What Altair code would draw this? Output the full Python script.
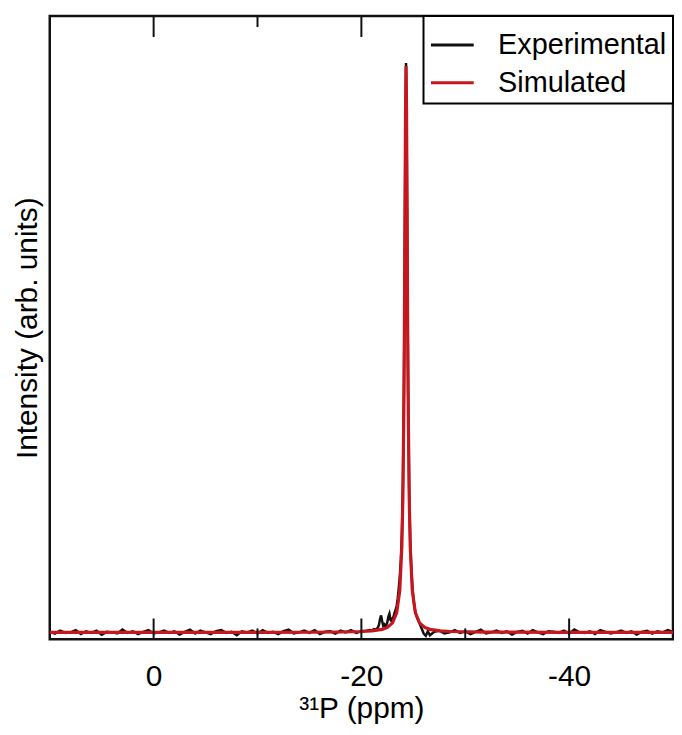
import altair as alt
import pandas as pd

FONT = "Liberation Sans"

# ---------------- data ----------------
series_names = ["Experimental", "Simulated"]
series_colors = ["#111111", "#c8161e"]

major_ticks = [0, -20, -40]
minor_ticks = [-10, -30]

# Experimental spectrum (ppm, intensity)
exp_ppm = [
    10.0, 9.5, 9.0, 8.5, 8.0, 7.5, 7.0, 6.5, 6.0, 5.5, 5.0, 4.5, 4.0, 3.5, 3.0, 2.5,
    2.0, 1.5, 1.0, 0.5, 0.0, -0.5, -1.0, -1.5, -2.0, -2.5, -3.0, -3.5, -4.0, -4.5,
    -5.0, -5.5, -6.0, -6.5, -7.0, -7.5, -8.0, -8.5, -9.0, -9.5, -10.0, -10.5, -11.0,
    -11.5, -12.0, -12.5, -13.0, -13.5, -14.0, -14.5, -15.0, -15.5, -16.0, -16.5,
    -17.0, -17.5, -18.0, -18.5, -19.0, -19.5, -20.0, -20.5,
    -20.8, -21.0, -21.2, -21.4, -21.6, -21.7, -21.8, -21.9, -22.0, -22.1, -22.2,
    -22.3, -22.4, -22.5, -22.6, -22.7, -22.8, -22.9, -23.0, -23.1, -23.2, -23.3,
    -23.4, -23.5, -23.6, -23.7, -23.8, -23.9, -24.0, -24.1, -24.15, -24.2, -24.25,
    -24.3, -24.35, -24.4, -24.45, -24.5, -24.6, -24.7, -24.8, -24.9, -25.0, -25.1,
    -25.2, -25.4, -25.6, -25.8, -26.0, -26.2, -26.4,
    -26.6, -27.0, -27.5, -28.0, -28.5, -29.0, -29.5, -30.0, -30.5, -31.0, -31.5,
    -32.0, -32.5, -33.0, -33.5, -34.0, -34.5, -35.0, -35.5, -36.0, -36.5, -37.0,
    -37.5, -38.0, -38.5, -39.0, -39.5, -40.0, -40.5, -41.0, -41.5, -42.0, -42.5,
    -43.0, -43.5, -44.0, -44.5, -45.0, -45.5, -46.0, -46.5, -47.0, -47.5, -48.0,
    -48.5, -49.0, -49.5, -50.0,
]
exp_intensity = [
    0.001, -0.002, 0.003, -0.001, 0.000, 0.004, -0.003, 0.002, -0.001, 0.003,
    -0.004, 0.001, 0.000, -0.002, 0.005, -0.001, 0.002, -0.003, 0.001, 0.004,
    -0.002, 0.000, 0.003, -0.001, 0.002, -0.004, 0.001, 0.005, -0.002, 0.003,
    0.000, -0.003, 0.002, 0.004, -0.001, 0.001, -0.005, 0.002, 0.000, 0.003,
    -0.002, 0.004, -0.001, 0.001, -0.003, 0.002, 0.005, -0.002, 0.000, 0.003,
    -0.001, 0.004, -0.003, 0.001, 0.002, -0.002, 0.003, 0.000, 0.004, -0.001,
    0.002, 0.003,
    0.004, 0.003, 0.006, 0.005, 0.009, 0.014, 0.024, 0.030, 0.020, 0.012, 0.014,
    0.010, 0.013, 0.018, 0.028, 0.033, 0.022, 0.020, 0.025, 0.028, 0.035, 0.040,
    0.047, 0.060, 0.078, 0.100, 0.128, 0.175, 0.265, 0.432, 0.572, 0.752, 0.928,
    1.005, 0.922, 0.748, 0.568, 0.428, 0.255, 0.165, 0.115, 0.084, 0.062, 0.046,
    0.036, 0.024, 0.016, 0.007, -0.002, -0.006, 0.002,
    -0.005, 0.001, 0.003, -0.002, 0.000, 0.004, -0.001, 0.002, -0.003, 0.001,
    0.005, -0.002, 0.000, 0.003, -0.001, 0.002, -0.004, 0.001, 0.003, -0.002,
    0.004, 0.000, -0.003, 0.002, 0.001, -0.001, 0.003, -0.002, 0.005, 0.000,
    -0.001, 0.002, -0.003, 0.004, 0.001, -0.002, 0.000, 0.003, -0.001, 0.002,
    -0.004, 0.001, 0.003, -0.002, 0.002, 0.000, 0.004, 0.001,
]

# Simulated line (ppm, intensity)
sim_ppm = [
    10.0, 0.0, -10.0, -15.0, -18.0, -20.0, -21.0, -22.0, -22.5, -23.0, -23.4,
    -23.7, -23.9, -24.0, -24.1, -24.15, -24.2, -24.25, -24.3, -24.35, -24.4,
    -24.45, -24.5, -24.6, -24.7, -24.9, -25.2, -25.6, -26.1, -26.6, -27.6,
    -28.6, -32.0, -40.0, -50.0,
]
sim_intensity = [
    0.0, 0.0001, 0.0001, 0.0003, 0.0007, 0.0016, 0.0027, 0.0054, 0.0088, 0.0168,
    0.0344, 0.0743, 0.153, 0.243, 0.419, 0.562, 0.743, 0.920, 1.0, 0.920, 0.743,
    0.562, 0.419, 0.243, 0.153, 0.0743, 0.0344, 0.0168, 0.0088, 0.0054, 0.0027,
    0.0016, 0.0005, 0.0001, 0.0,
]

exp_df = pd.DataFrame({"ppm": exp_ppm, "intensity": exp_intensity, "series": series_names[0]})
sim_df = pd.DataFrame({"ppm": sim_ppm, "intensity": sim_intensity, "series": series_names[1]})
major_df = pd.DataFrame({"ppm": major_ticks})
minor_df = pd.DataFrame({"ppm": minor_ticks})

# ---------------- chart ----------------
W, H = 627, 627

x_scale = alt.Scale(domain=[10, -50], nice=False, zero=False)
y_scale = alt.Scale(domain=[-0.0123, 1.088], nice=False, zero=False)
color_scale = alt.Scale(domain=series_names, range=series_colors)

x_axis = alt.Axis(
    values=major_ticks, labelExpr="'' + datum.value", ticks=False, tickSize=0,
    domain=False, grid=False, labelPadding=22, labelFontSize=30, titleFontSize=30,
    titlePadding=3, labelFont=FONT, titleFont=FONT, labelColor="black",
    titleColor="black", titleFontWeight="normal",
)
y_axis = alt.Axis(
    ticks=False, labels=False, domain=False, grid=False, titleFontSize=30,
    titleFont=FONT, titleColor="black", titleFontWeight="normal", titlePadding=7,
)

legend = alt.Legend(
    title=None, orient="top-right", offset=0, symbolType="stroke",
    symbolSize=1849, symbolStrokeWidth=3, labelFontSize=29, labelFont=FONT,
    labelColor="black", labelOffset=23, rowPadding=0, padding=6,
    fillColor="white", strokeColor="black", labelLimit=400,
)

X_TITLE = "³¹P (ppm)"
x_enc = alt.X("ppm:Q", scale=x_scale, axis=x_axis, title=X_TITLE)
y_enc = alt.Y("intensity:Q", scale=y_scale, axis=y_axis, title="Intensity (arb. units)")
c_enc = alt.Color("series:N", scale=color_scale, legend=legend)

exp_line = alt.Chart(exp_df).mark_line(strokeWidth=2.5, clip=True).encode(
    x=x_enc, y=y_enc, color=c_enc
)
sim_line = alt.Chart(sim_df).mark_line(strokeWidth=3.2, clip=True).encode(
    x=x_enc, y=y_enc, color=c_enc
)

bottom_major = alt.Chart(major_df).mark_rule(color="#111111", strokeWidth=2).encode(
    x=x_enc, y=alt.value(H), y2=alt.value(H - 21)
)
bottom_minor = alt.Chart(minor_df).mark_rule(color="#111111", strokeWidth=2).encode(
    x=x_enc, y=alt.value(H), y2=alt.value(H - 11)
)
top_major = alt.Chart(major_df).mark_rule(color="#111111", strokeWidth=2).encode(
    x=x_enc, y=alt.value(0), y2=alt.value(21)
)
top_minor = alt.Chart(minor_df).mark_rule(color="#111111", strokeWidth=2).encode(
    x=x_enc, y=alt.value(0), y2=alt.value(11)
)

chart = (
    alt.layer(exp_line, sim_line, bottom_major, bottom_minor, top_major, top_minor)
    .properties(width=W, height=H, padding={"left": 5, "top": 5, "right": 0, "bottom": 0})
    .configure_view(stroke="#111111", strokeWidth=2.5)
    .configure_legend(strokeWidth=2)
)

chart.save("out.html", embed_options={"renderer": "svg", "actions": False})
